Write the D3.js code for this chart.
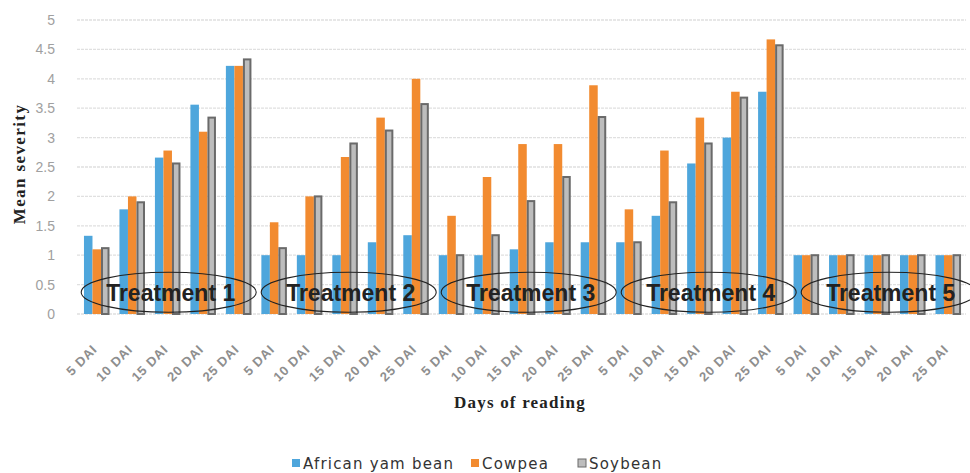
<!DOCTYPE html>
<html><head><meta charset="utf-8">
<script src="https://cdn.jsdelivr.net/npm/d3@7"></script>
<style>body{margin:0;background:#fff}</style>
</head><body>
<svg id="c" width="970" height="473"></svg>
<script>
const categories = ["5 DAI","10 DAI","15 DAI","20 DAI","25 DAI","5 DAI","10 DAI","15 DAI","20 DAI","25 DAI","5 DAI","10 DAI","15 DAI","20 DAI","25 DAI","5 DAI","10 DAI","15 DAI","20 DAI","25 DAI","5 DAI","10 DAI","15 DAI","20 DAI","25 DAI"];
const treatments = ["Treatment 1","Treatment 2","Treatment 3","Treatment 4","Treatment 5"];
const seriesNames = ["African yam bean","Cowpea","Soybean"];
const africanYamBean = [1.33,1.78,2.66,3.56,4.22, 1.0,1.0,1.0,1.22,1.34, 1.0,1.0,1.1,1.22,1.22, 1.22,1.67,2.56,3.0,3.78, 1,1,1,1,1];
const cowpea = [1.1,2.0,2.78,3.1,4.22, 1.56,2.0,2.67,3.34,4.0, 1.67,2.33,2.89,2.89,3.89, 1.78,2.78,3.34,3.78,4.67, 1,1,1,1,1];
const soybean = [1.12,1.9,2.56,3.34,4.33, 1.12,2.0,2.9,3.12,3.57, 1.0,1.34,1.92,2.33,3.35, 1.22,1.9,2.9,3.68,4.57, 1,1,1,1,1];
const yTicks = [0,0.5,1,1.5,2,2.5,3,3.5,4,4.5,5];

const svg = d3.select("#c");
const idx = d3.range(categories.length);
const x = d3.scaleBand().domain(idx).range([79, 966]).paddingInner(0.28).paddingOuter(0.14);
const xs = d3.scaleBand().domain([0,1,2]).range([0, x.bandwidth()]);
const y = d3.scaleLinear().domain([0,5]).range([314, 20]);
const fills = ["#4EA6DC","#F28B30","#BDBDBD"];
const strokes = ["none","none","#6A6A6A"];
const data = [africanYamBean, cowpea, soybean];

// gridlines
svg.append("g").selectAll("line").data(yTicks).join("line")
  .attr("x1",77).attr("x2",966).attr("y1",d=>y(d)).attr("y2",d=>y(d))
  .attr("stroke","#E0E0E0").attr("stroke-width",1.3).attr("stroke-dasharray","3,1");

// y axis labels
const yAxis = d3.axisLeft(y).tickValues(yTicks).tickSize(0).tickPadding(0).tickFormat(d3.format("~g"));
const ya = svg.append("g").attr("transform","translate(55,0)").call(yAxis);
ya.select(".domain").remove();
ya.selectAll("text").attr("fill","#A0A0A0").attr("font-family","Liberation Sans, Arial, sans-serif").attr("font-size",14);

// bars
data.forEach((vals,s)=>{
  svg.append("g").selectAll("rect").data(idx).join("rect")
    .attr("x",i=>x(i)+xs(s)+(s===2?1:0))
    .attr("y",i=>y(vals[i]))
    .attr("width",xs.bandwidth()-(s===2?2:0))
    .attr("height",i=>y(0)-y(vals[i]))
    .attr("fill",fills[s])
    .attr("stroke",strokes[s]).attr("stroke-width",2);
});

// x tick labels
const xa = svg.append("g").attr("transform","translate(0,316)")
  .call(d3.axisBottom(x).tickSize(0).tickFormat(i=>categories[i]));
xa.select(".domain").remove();
xa.selectAll("text")
  .attr("font-family","Liberation Sans, Arial, sans-serif").attr("font-size",13)
  .attr("fill","#8E8E8E").attr("font-weight","bold").attr("letter-spacing",0.8)
  .attr("text-anchor","end").attr("dy","0.35em").attr("y",0)
  .attr("transform","translate(-2,31) rotate(-45)");

// treatment ellipses
const groups = treatments.map((t,g)=>({t, cx:(x(g*5)+x(g*5+4)+x.bandwidth())/2 + 1 + g*2.6}));
const eg = svg.append("g");
eg.selectAll("ellipse").data(groups).join("ellipse")
  .attr("cx",d=>d.cx).attr("cy",y(0.37)).attr("rx",87.5).attr("ry",20)
  .attr("fill","none").attr("stroke","#222").attr("stroke-width",1.1);
eg.selectAll("text").data(groups).join("text")
  .attr("x",d=>d.cx+2).attr("y",y(0.37)).attr("dy","0.36em")
  .attr("text-anchor","middle").attr("font-family","Liberation Sans, Arial, sans-serif")
  .attr("font-weight","bold").attr("font-size",23).attr("fill","#222").text(d=>d.t);

// axis titles
svg.append("text").attr("x",520).attr("y",408).attr("text-anchor","middle")
  .attr("font-family","Liberation Serif, Times New Roman, serif").attr("font-weight","bold")
  .attr("font-size",17).attr("letter-spacing",1.2).attr("fill","#222").text("Days of reading");
svg.append("text").attr("transform","translate(25,164) rotate(-90)").attr("text-anchor","middle")
  .attr("font-family","Liberation Serif, Times New Roman, serif").attr("font-weight","bold")
  .attr("font-size",17).attr("letter-spacing",1.4).attr("fill","#222").text("Mean severity");

// legend
const legX = [292, 471, 578];
const lg = svg.append("g").selectAll("g").data(seriesNames).join("g")
  .attr("transform",(d,i)=>`translate(${legX[i]},464)`);
lg.append("rect").attr("x",0).attr("y",-5).attr("width",8).attr("height",8)
  .attr("fill",(d,i)=>fills[i]).attr("stroke",(d,i)=>i===2?"#6A6A6A":"none");
lg.append("text").attr("x",11).attr("y",0).attr("dy","0.35em")
  .attr("font-family","DejaVu Sans, Verdana, sans-serif").attr("font-size",15)
  .attr("letter-spacing",1.2).attr("fill","#333").text(d=>d);
</script>
</body></html>
